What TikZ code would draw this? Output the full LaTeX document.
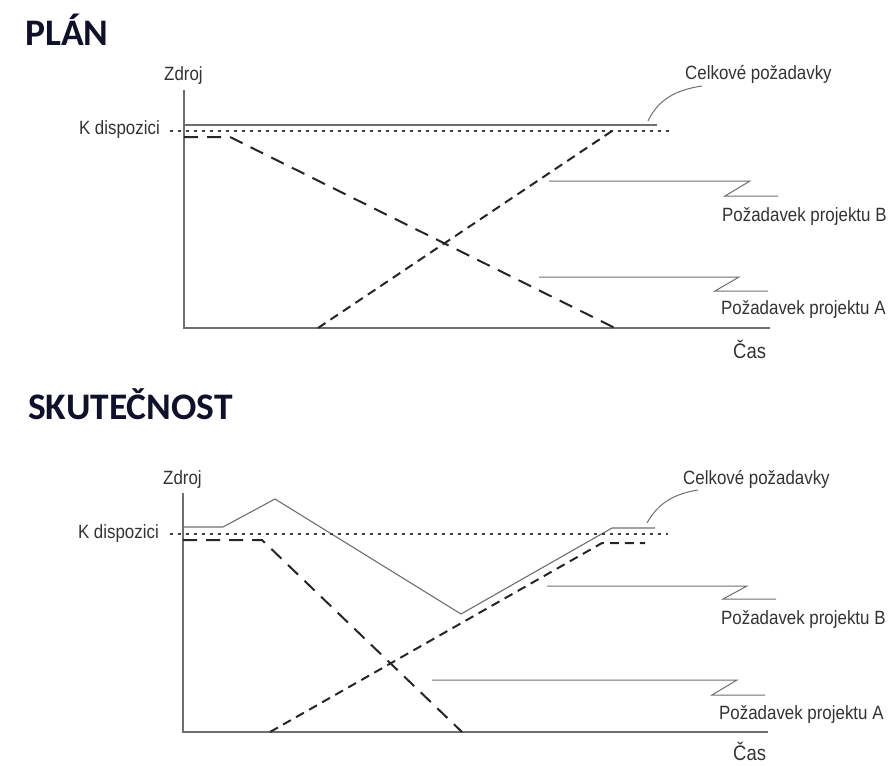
\documentclass[tikz,border=0pt]{standalone}
\usepackage{fontspec}
\setmainfont[FakeStretch=0.88]{Liberation Sans}
\newfontfamily\titlefont{Carlito}

\definecolor{titleink}{HTML}{10102A}
\definecolor{labelink}{HTML}{333333}
\definecolor{axisgray}{HTML}{6E6E6E}

\tikzset{
  axisline/.style={draw=axisgray, line width=1.4pt},
  totalline/.style={draw=axisgray, line width=1.1pt, line join=miter},
  availline/.style={draw=black!75, line width=1.5pt, dash pattern=on 2.5pt off 5.5pt},
  projA/.style={draw=black!85, line width=2pt, dash pattern=on 14pt off 9pt},
  projB/.style={draw=black!85, line width=2pt, dash pattern=on 9pt off 6pt},
  leader/.style={draw=axisgray, line width=1pt},
  lab/.style={font=\fontsize{19.2}{22}\selectfont, text=labelink, inner sep=0pt},
  timelab/.style={font=\fontsize{21}{24}\selectfont, text=labelink, inner sep=0pt},
  ttl/.style={font=\titlefont\bfseries\fontsize{37.5}{42}\selectfont, text=titleink, inner sep=0pt},
}

\begin{document}
\begin{tikzpicture}[x=1pt,y=-1pt]
\useasboundingbox (0,0) rectangle (896,765);

% ---------------- plan ----------------
\node[ttl, anchor=base west] (plan) at (25,46) {PLÁN};
\node[lab, anchor=base west] (zdroj1) at (164,81) {Zdroj};
\node[lab, anchor=base east] (kdisp1) at (160,134) {K dispozici};
\node[lab, anchor=base west] (celk1) at (685,80) {Celkové požadavky};
\node[lab, anchor=base west] (reqB1) at (722,221) {Požadavek projektu B};
\node[lab, anchor=base west] (reqA1) at (721,314) {Požadavek projektu A};
\node[timelab, anchor=base west] (cas1) at (733,358) {Čas};

\coordinate (ytop1) at (184,90);
\coordinate (o1) at (184,328);
\coordinate (xend1) at (770,328);
\draw[axisline] (ytop1) -- (o1) -- (xend1);

% total demand and available capacity
\coordinate (tot1s) at (184,125);
\coordinate (tot1e) at (657,125);
\draw[totalline] (tot1s) -- (tot1e);
\coordinate (av1s) at (170,131);
\coordinate (av1e) at (672,131);
\draw[availline] (av1s) -- (av1e);

% project A ramps down, project B ramps up
\coordinate (a1s) at (184,137);
\coordinate (a1k) at (230,137);
\coordinate (a1e) at (615,328);
\draw[projA] (a1s) -- (a1k) -- (a1e);
\coordinate (b1s) at (318,328);
\coordinate (b1e) at (612,131);
\draw[projB] (b1s) -- (b1e);

% label leaders
\coordinate (lc1a) at (648,121);
\coordinate (lc1b) at (702,86);
\draw[leader] (lc1a) .. controls (658,100) and (675,90) .. (lc1b);
\coordinate (lb1a) at (549,181);
\coordinate (lb1b) at (750,181);
\coordinate (lb1c) at (725,196);
\coordinate (lb1d) at (778,196);
\draw[leader] (lb1a) -- (lb1b) -- (lb1c) -- (lb1d);
\coordinate (la1a) at (539,277);
\coordinate (la1b) at (739,277);
\coordinate (la1c) at (715,291);
\coordinate (la1d) at (768,291);
\draw[leader] (la1a) -- (la1b) -- (la1c) -- (la1d);

% ---------------- reality ----------------
\node[ttl, anchor=base west] (skut) at (28,419) {SKUTEČNOST};
\node[lab, anchor=base west] (zdroj2) at (163,484) {Zdroj};
\node[lab, anchor=base east] (kdisp2) at (159,538) {K dispozici};
\node[lab, anchor=base west] (celk2) at (683,484) {Celkové požadavky};
\node[lab, anchor=base west] (reqB2) at (721,624) {Požadavek projektu B};
\node[lab, anchor=base west] (reqA2) at (719,719) {Požadavek projektu A};
\node[timelab, anchor=base west] (cas2) at (733,760) {Čas};

\coordinate (ytop2) at (183,493);
\coordinate (o2) at (183,732);
\coordinate (xend2) at (768,732);
\draw[axisline] (ytop2) -- (o2) -- (xend2);

\coordinate (t2a) at (183,527);
\coordinate (t2b) at (223,527);
\coordinate (t2c) at (275,499);
\coordinate (t2d) at (461,614);
\coordinate (t2e) at (612,528);
\coordinate (t2f) at (655,528);
\draw[totalline] (t2a) -- (t2b) -- (t2c) -- (t2d) -- (t2e) -- (t2f);
\coordinate (av2s) at (170,534);
\coordinate (av2e) at (668,534);
\draw[availline] (av2s) -- (av2e);

\coordinate (a2s) at (183,540);
\coordinate (a2k) at (262,540);
\coordinate (a2e) at (462,732);
\draw[projA] (a2s) -- (a2k) -- (a2e);
\coordinate (b2s) at (270,732);
\coordinate (b2k) at (602,543);
\coordinate (b2e) at (645,543);
\draw[projB] (b2s) -- (b2k) -- (b2e);

\coordinate (lc2a) at (647,523);
\coordinate (lc2b) at (698,490);
\draw[leader] (lc2a) .. controls (657,505) and (672,494) .. (lc2b);
\coordinate (lb2a) at (547,586);
\coordinate (lb2b) at (747,586);
\coordinate (lb2c) at (723,599);
\coordinate (lb2d) at (776,599);
\draw[leader] (lb2a) -- (lb2b) -- (lb2c) -- (lb2d);
\coordinate (la2a) at (432,680);
\coordinate (la2b) at (737,680);
\coordinate (la2c) at (712,695);
\coordinate (la2d) at (765,695);
\draw[leader] (la2a) -- (la2b) -- (la2c) -- (la2d);
\end{tikzpicture}
\end{document}
